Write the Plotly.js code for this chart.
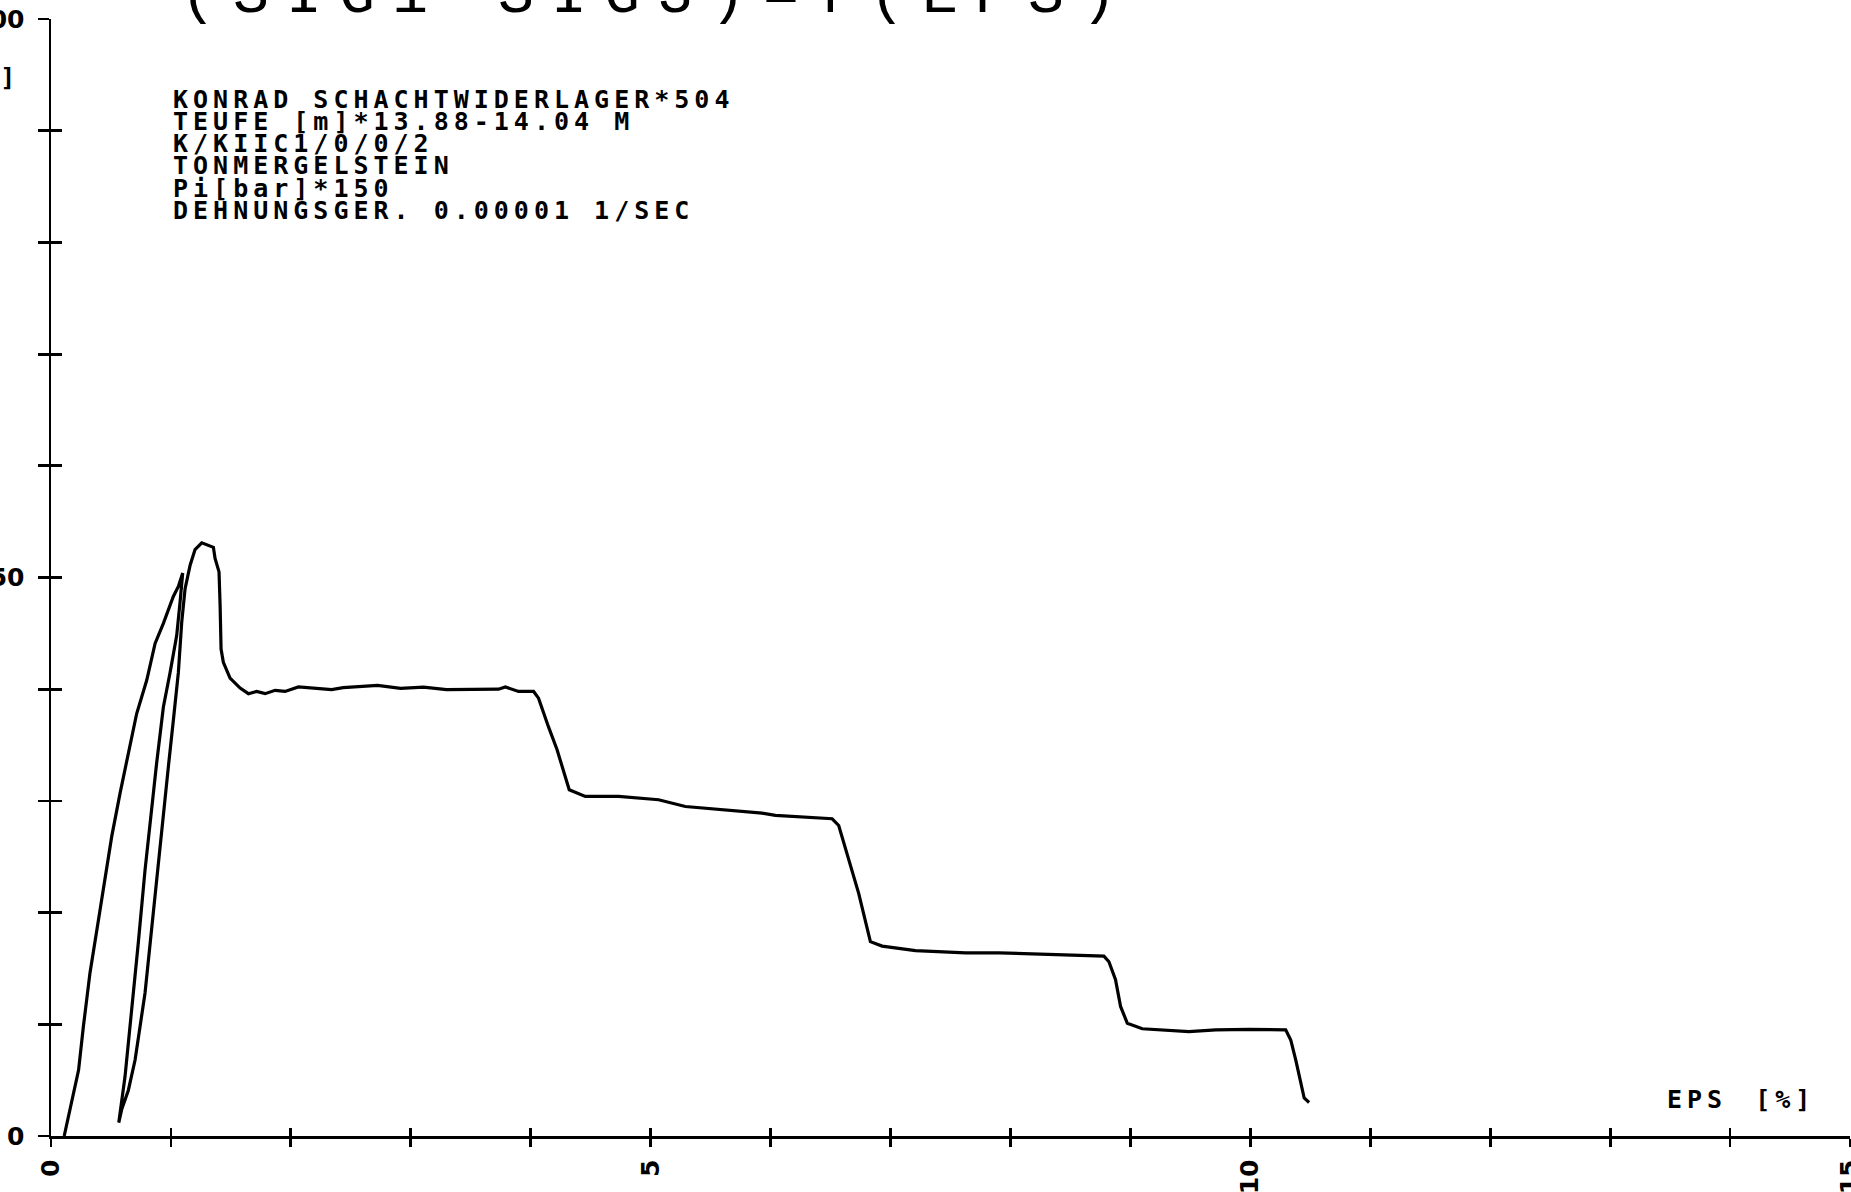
<!DOCTYPE html>
<html>
<head>
<meta charset="utf-8">
<script src="https://cdn.plot.ly/plotly-3.0.1.min.js"></script>
<style>
html, body { margin: 0; padding: 0; background: #ffffff; }
#chart { width: 1851px; height: 1192px; }
g.annotation[data-index="0"] text.annotation-text { letter-spacing: 17px; }
g.annotation:not([data-index="0"]) text.annotation-text { letter-spacing: 5px; }
g.annotation[data-index="7"] text.annotation-text { word-spacing: 8px; }
</style>
</head>
<body>
<div id="chart"></div>
<script>
// ---- data (EPS in %, SIG1-SIG3 in MPa) ----
const epsLoading = [0.11, 0.23, 0.27, 0.325, 0.395, 0.45, 0.506, 0.576, 0.617, 0.714, 0.798, 0.868, 0.937, 1.02, 1.062, 1.098];
const sigLoading = [0, 5.9, 9.8, 14.6, 19.3, 23.2, 26.8, 30.7, 32.8, 37.8, 40.8, 44.1, 45.9, 48.3, 49.2, 50.4];

const epsUnloading = [1.076, 1.048, 0.993, 0.937, 0.88, 0.839, 0.784, 0.728, 0.672, 0.617, 0.565];
const sigUnloading = [47.8, 44.8, 41.5, 38.4, 33.3, 29.2, 23.8, 17.3, 11.3, 5.3, 1.2];

const epsReloading = [0.59, 0.645, 0.701, 0.784, 0.853, 0.909, 0.951, 0.98, 1.02, 1.062, 1.09, 1.118, 1.16, 1.201, 1.257];
const sigReloading = [2.4, 4.1, 6.8, 12.8, 20.2, 26.2, 30.7, 33.2, 37.2, 41.5, 46.0, 49.0, 51.1, 52.5, 53.1];

const epsPostPeak = [1.298, 1.354, 1.368, 1.401, 1.41, 1.418, 1.437, 1.493, 1.577, 1.646, 1.715, 1.785, 1.869, 1.952, 2.063, 2.212, 2.34, 2.436, 2.723, 2.915, 3.106, 3.298, 3.49, 3.732, 3.788, 3.898, 4.024, 4.065, 4.149, 4.219, 4.321, 4.455, 4.733, 5.066, 5.289, 5.539, 5.929, 6.04, 6.234, 6.513, 6.568, 6.651, 6.735, 6.832, 6.93, 7.208, 7.625, 7.903, 8.181, 8.459, 8.779, 8.821, 8.876, 8.918, 8.974, 9.099, 9.488, 9.711, 9.989, 10.295, 10.337, 10.379, 10.421, 10.449, 10.49];
const sigPostPeak = [52.9, 52.7, 51.7, 50.5, 47.5, 43.6, 42.4, 41.0, 40.1, 39.6, 39.8, 39.6, 39.9, 39.8, 40.2, 40.07, 39.97, 40.14, 40.35, 40.07, 40.18, 39.97, 40.0, 40.0, 40.2, 39.8, 39.8, 39.2, 36.6, 34.6, 31.0, 30.4, 30.4, 30.1, 29.5, 29.25, 28.9, 28.7, 28.6, 28.4, 27.8, 24.7, 21.7, 17.4, 17.0, 16.6, 16.4, 16.4, 16.3, 16.2, 16.1, 15.6, 14.0, 11.6, 10.1, 9.6, 9.35, 9.5, 9.55, 9.5, 8.6, 6.8, 4.7, 3.4, 3.0];

// ---- ticks and texts ----
const xTickVals = [0, 1, 2, 3, 4, 5, 6, 7, 8, 9, 10, 11, 12, 13, 14, 15];
const xTickText = ['0', '', '', '', '', '5', '', '', '', '', '10', '', '', '', '', '15'];
const yTickVals = [0, 10, 20, 30, 40, 50, 60, 70, 80, 90, 100];
const yTickText = ['0', '', '', '', '', '50', '', '', '', '', '100'];

const titleText = '(SIG1-SIG3)=f(EPS)';
const infoLines = [
  'KONRAD SCHACHTWIDERLAGER*504',
  'TEUFE [m]*13.88-14.04 M',
  'K/KIIC1/0/0/2',
  'TONMERGELSTEIN',
  'Pi[bar]*150',
  'DEHNUNGSGER. 0.00001 1/SEC'
];
const xAxisLabel = 'EPS [%]';
const yAxisLabel = '[MPa]';

// ---- layout geometry ----
const W = 1851, H = 1192;
const M = { l: 51, r: 1, t: 19, b: 56 };
const pw = W - M.l - M.r, ph = H - M.t - M.b;
const px = x => (x - M.l) / pw;
const py = y => (H - M.b - y) / ph;

const epsAll = [].concat(epsLoading, epsUnloading, epsReloading, epsPostPeak);
const sigAll = [].concat(sigLoading, sigUnloading, sigReloading, sigPostPeak);

const curve = {
  x: epsAll, y: sigAll, type: 'scatter', mode: 'lines',
  line: { color: '#000000', width: 3.2, shape: 'linear' },
  hoverinfo: 'skip', showlegend: false
};
// empty traces so that the overlay axes (inner half of the crossing ticks) are drawn
const innerTicksX = { x: [], y: [], type: 'scatter', mode: 'lines', xaxis: 'x2', yaxis: 'y', hoverinfo: 'skip', showlegend: false };
const innerTicksY = { x: [], y: [], type: 'scatter', mode: 'lines', xaxis: 'x', yaxis: 'y2', hoverinfo: 'skip', showlegend: false };

const tickFont = { family: 'DejaVu Sans', size: 25, weight: 'bold', color: '#000000' };
const infoFont = { family: 'DejaVu Sans Mono', size: 25, weight: 'bold', color: '#000000' };

const annotations = [];
annotations.push({
  text: titleText, xref: 'paper', yref: 'paper', x: px(178), y: py(-4),
  xanchor: 'left', yanchor: 'middle', align: 'left', showarrow: false,
  font: { family: 'Liberation Mono', size: 60, color: '#000000' }
});
infoLines.forEach((t, i) => {
  annotations.push({
    text: t, xref: 'paper', yref: 'paper', x: px(171), y: py(99 + 22.3 * i),
    xanchor: 'left', yanchor: 'middle', align: 'left', showarrow: false, font: infoFont
  });
});
annotations.push({
  text: xAxisLabel, xref: 'paper', yref: 'paper', x: px(1665), y: py(1099),
  xanchor: 'left', yanchor: 'middle', align: 'left', showarrow: false, font: infoFont
});
annotations.push({
  text: yAxisLabel, xref: 'paper', yref: 'paper', x: px(-82), y: py(78),
  xanchor: 'left', yanchor: 'middle', align: 'left', showarrow: false, font: infoFont
});

const axisCommon = { showgrid: false, zeroline: false, fixedrange: true };

const layout = {
  width: W, height: H,
  margin: M,
  paper_bgcolor: '#ffffff', plot_bgcolor: '#ffffff',
  showlegend: false,
  xaxis: Object.assign({}, axisCommon, {
    range: [0, 15], tickmode: 'array', tickvals: xTickVals, ticktext: xTickText,
    ticks: 'outside', ticklen: 8, tickwidth: 2.8, tickcolor: '#000000',
    showline: true, linecolor: '#000000', linewidth: 2.5,
    tickangle: -90, tickfont: tickFont, ticklabelstandoff: 3, ticklabeloverflow: 'allow'
  }),
  xaxis2: Object.assign({}, axisCommon, {
    overlaying: 'x', anchor: 'y', side: 'bottom',
    range: [0, 15], tickmode: 'array', tickvals: xTickVals,
    ticks: 'inside', ticklen: 8, tickwidth: 2.8, tickcolor: '#000000',
    showticklabels: false, showline: false
  }),
  yaxis: Object.assign({}, axisCommon, {
    range: [0, 100], tickmode: 'array', tickvals: yTickVals, ticktext: yTickText,
    ticks: 'outside', ticklen: 11, tickwidth: 2.8, tickcolor: '#000000',
    showline: true, linecolor: '#000000', linewidth: 2.5,
    tickfont: tickFont, ticklabelstandoff: 8, ticklabeloverflow: 'allow'
  }),
  yaxis2: Object.assign({}, axisCommon, {
    overlaying: 'y', anchor: 'x', side: 'left',
    range: [0, 100], tickmode: 'array', tickvals: yTickVals,
    ticks: 'inside', ticklen: 11, tickwidth: 2.8, tickcolor: '#000000',
    showticklabels: false, showline: false
  }),
  annotations: annotations
};

Plotly.newPlot('chart', [curve, innerTicksX, innerTicksY], layout, { displayModeBar: false, staticPlot: true });
</script>
</body>
</html>
